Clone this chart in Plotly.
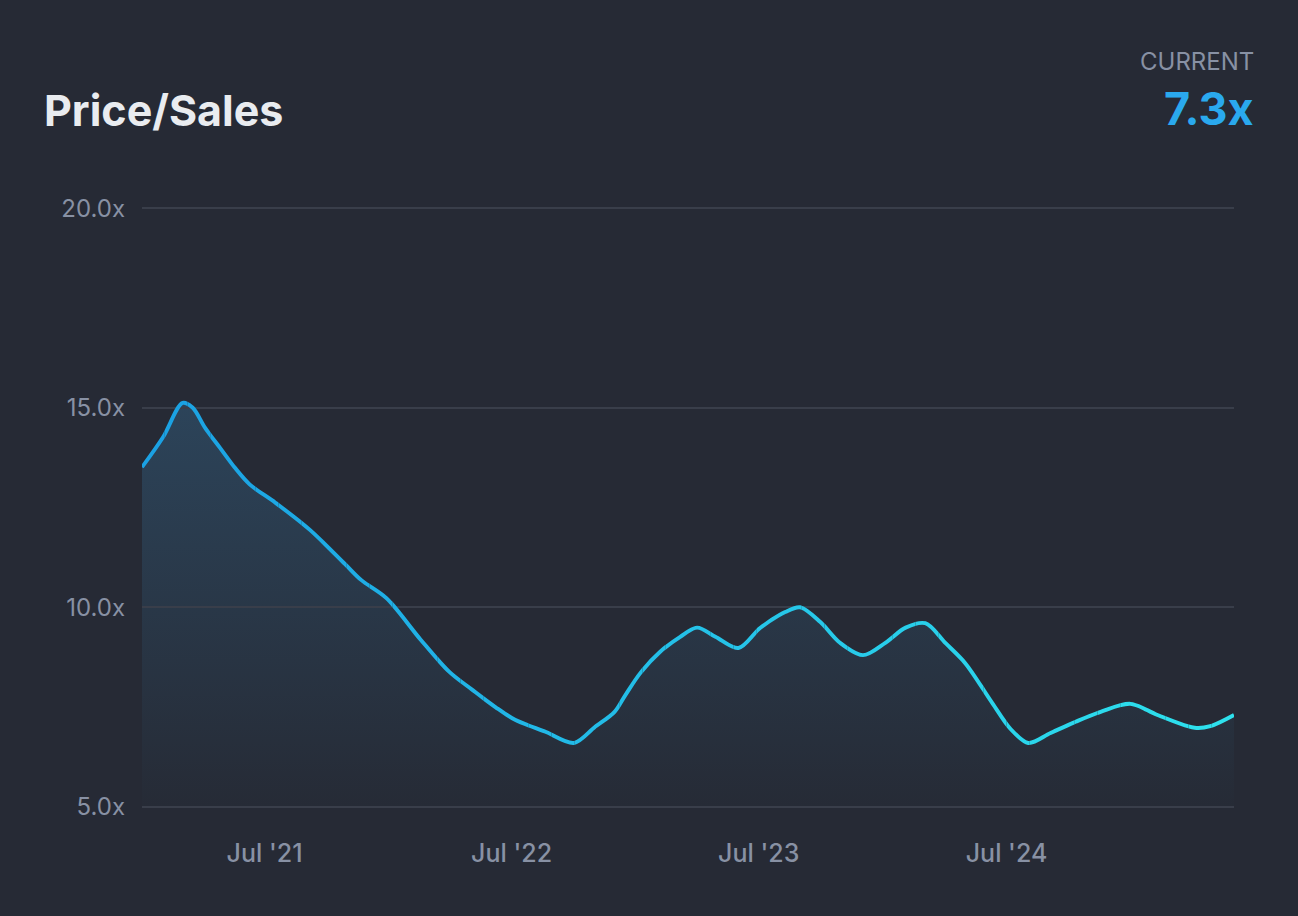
import plotly.graph_objects as go
import pandas as pd

# ---- data ----
dates = [
    "2021-01-01", "2021-02-01", "2021-03-02", "2021-03-17", "2021-04-04", "2021-04-26",
    "2021-05-18", "2021-06-09", "2021-07-17", "2021-09-06", "2021-10-28", "2021-11-21",
    "2021-12-28", "2022-02-16", "2022-03-31", "2022-05-04", "2022-06-07", "2022-07-06",
    "2022-08-20", "2022-10-01", "2022-11-01", "2022-11-30", "2022-12-16", "2023-01-07",
    "2023-02-05", "2023-03-07", "2023-04-01", "2023-04-28", "2023-06-01", "2023-07-03",
    "2023-08-09", "2023-08-31", "2023-09-30", "2023-10-29", "2023-12-02", "2024-01-04",
    "2024-02-03", "2024-03-03", "2024-04-02", "2024-05-01", "2024-06-10", "2024-07-07",
    "2024-08-02", "2024-09-04", "2024-10-11", "2024-11-17", "2024-12-31", "2025-02-09",
    "2025-04-05", "2025-04-28", "2025-06-02",
]
ps_values = [
    13.51, 14.26, 15.12, 15.00, 14.50, 14.00,
    13.50, 13.08, 12.62, 11.94, 11.08, 10.68,
    10.23, 9.20, 8.38, 7.93, 7.50, 7.18,
    6.88, 6.60, 7.00, 7.38, 7.80, 8.35,
    8.88, 9.26, 9.49, 9.26, 8.98, 9.48,
    9.88, 10.00, 9.63, 9.11, 8.80, 9.11,
    9.49, 9.60, 9.10, 8.60, 7.60, 6.95,
    6.60, 6.85, 7.13, 7.38, 7.58, 7.30,
    6.98, 7.02, 7.30,
]
y_tick_vals = [5, 10, 15, 20]
y_tick_text = ["5.0x", "10.0x", "15.0x", "20.0x"]
x_tick_vals = ["2021-07-01", "2022-07-01", "2023-07-01", "2024-07-01"]
x_tick_text = ["Jul '21", "Jul '22", "Jul '23", "Jul '24"]
title_text = "Price/Sales"
current_label = "CURRENT"
current_value = "7.3x"

# ---- styling ----
BG = "#262A35"
GRID = "#393E4A"
TICK = "#8891A4"
C_START = (27, 161, 227)
C_END = (46, 225, 237)
X_START = pd.Timestamp("2021-01-01")
X_END = pd.Timestamp("2025-06-02")
Y_RANGE = [4.97, 20.03]
N_SLICES = 48

x = pd.to_datetime(dates)
fig = go.Figure()

# gradient area fill (main axis)
fig.add_trace(go.Scatter(
    x=x, y=ps_values, mode="lines", line=dict(width=0, shape="spline", smoothing=0.9),
    fill="tozeroy",
    fillgradient=dict(type="vertical",
                      colorscale=[[0, "rgb(38,43,54)"], [1, "rgb(44,68,90)"]],
                      start=5, stop=15.2),
    hoverinfo="skip", showlegend=False,
))

# gradient-coloured line: same curve drawn on hidden x-axes that each show one slice
span = X_END - X_START
layout_axes = {}
for k in range(N_SLICES):
    t = k / (N_SLICES - 1)
    c = tuple(round(C_START[j] + (C_END[j] - C_START[j]) * t) for j in range(3))
    col = "rgb(%d,%d,%d)" % c
    ax_name = "x%d" % (k + 2)
    r0 = X_START + span * (k / N_SLICES)
    r1 = X_START + span * ((k + 1) / N_SLICES)
    layout_axes["xaxis%d" % (k + 2)] = dict(
        domain=[k / N_SLICES, (k + 1) / N_SLICES],
        range=[r0.strftime("%Y-%m-%d %H:%M:%S.%f"), r1.strftime("%Y-%m-%d %H:%M:%S.%f")],
        type="date", visible=False, anchor="y", showgrid=False, zeroline=False,
    )
    fig.add_trace(go.Scatter(
        x=x, y=ps_values, mode="lines", xaxis=ax_name, yaxis="y",
        line=dict(color=col, width=3.9, shape="spline", smoothing=0.9),
        hoverinfo="skip", showlegend=False,
    ))

L, R, T, B = 142, 64, 207, 108
W, H = 1298, 916
pw, ph = W - L - R, H - T - B

def px_x(px):
    return (px - L) / pw

def px_y(py):
    return (H - B - py) / ph

fig.update_layout(
    width=W, height=H,
    margin=dict(l=L, r=R, t=T, b=B, pad=0),
    paper_bgcolor=BG, plot_bgcolor="rgba(0,0,0,0)",
    font=dict(family="Inter", color=TICK),
    showlegend=False,
    xaxis=dict(
        type="date", range=[X_START.strftime("%Y-%m-%d"), X_END.strftime("%Y-%m-%d")],
        domain=[0, 1],
        tickvals=x_tick_vals, ticktext=x_tick_text,
        showgrid=False, zeroline=False, showline=False, ticks="",
        tickfont=dict(size=25, color=TICK, family="Inter", weight=500),
        ticklabelstandoff=28,
    ),
    yaxis=dict(
        range=Y_RANGE, tickvals=y_tick_vals, ticktext=y_tick_text,
        showgrid=True, gridcolor=GRID, gridwidth=1.5,
        zeroline=False, showline=False, ticks="",
        tickfont=dict(size=24, color=TICK, family="Inter"),
        ticklabelstandoff=16,
    ),
    annotations=[
        dict(text=title_text, xref="paper", yref="paper", x=px_x(42), y=px_y(110),
             xanchor="left", yanchor="middle", showarrow=False,
             font=dict(size=43, color="#E9ECF0", family="Inter", weight=700)),
        dict(text=current_label, xref="paper", yref="paper", x=px_x(1256), y=px_y(61),
             xanchor="right", yanchor="middle", showarrow=False,
             font=dict(size=24, color=TICK, family="Inter")),
        dict(text=current_value, xref="paper", yref="paper", x=px_x(1256), y=px_y(109),
             xanchor="right", yanchor="middle", showarrow=False,
             font=dict(size=45, color="#2AA9EE", family="Inter", weight=700)),
    ],
    **layout_axes,
)

fig.write_html("out.html")
